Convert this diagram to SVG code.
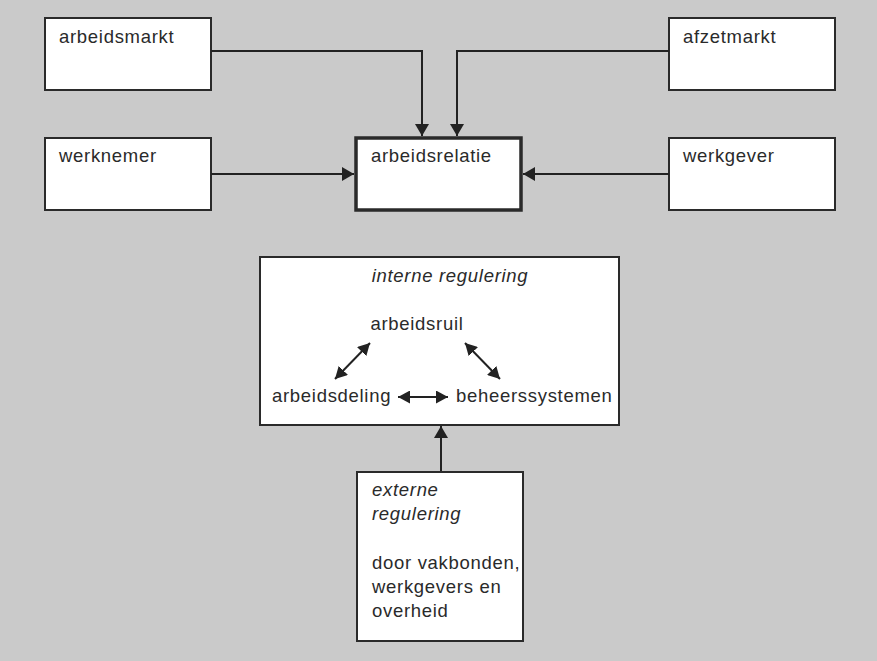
<svg xmlns="http://www.w3.org/2000/svg" width="877" height="661" viewBox="0 0 877 661">
<defs>
<marker id="ah" viewBox="0 0 12 14" refX="12" refY="7" markerWidth="12" markerHeight="14" markerUnits="userSpaceOnUse" orient="auto-start-reverse">
<path d="M0,0 L12,7 L0,14 z" fill="#222"/>
</marker>
<marker id="ahs" viewBox="0 0 12 13" refX="12" refY="6.5" markerWidth="12" markerHeight="13" markerUnits="userSpaceOnUse" orient="auto-start-reverse">
<path d="M0,0 L12,6.5 L0,13 z" fill="#222"/>
</marker>
</defs>
<style>
.box{fill:#fff;stroke:#2a2a2a;stroke-width:2}
.thick{stroke-width:3.5}
.t{font-family:"Liberation Sans",Arial,sans-serif;font-size:18.5px;fill:#2a2a2a;letter-spacing:0.7px}
.i{font-style:italic}
.c{fill:none;stroke:#222;stroke-width:2}
</style>
<rect x="0" y="0" width="877" height="661" fill="#cacaca"/>
<g id="arbeidsmarkt">
<rect class="box" x="45" y="18" width="166" height="72"/>
<text class="t" x="59" y="43">arbeidsmarkt</text>
</g>
<g id="afzetmarkt">
<rect class="box" x="669" y="18" width="166" height="72"/>
<text class="t" x="683" y="43">afzetmarkt</text>
</g>
<g id="werknemer">
<rect class="box" x="45" y="138" width="166" height="72"/>
<text class="t" x="59" y="162">werknemer</text>
</g>
<g id="arbeidsrelatie">
<rect class="box thick" x="356" y="138" width="165" height="72"/>
<text class="t" x="371" y="162">arbeidsrelatie</text>
</g>
<g id="werkgever">
<rect class="box" x="669" y="138" width="166" height="72"/>
<text class="t" x="683" y="162">werkgever</text>
</g>
<g id="interne">
<rect class="box" x="260" y="257" width="359" height="168"/>
<text class="t i" x="450" y="282" text-anchor="middle">interne regulering</text>
<text class="t" x="417" y="330" text-anchor="middle">arbeidsruil</text>
<text class="t" x="272" y="402">arbeidsdeling</text>
<text class="t" x="456" y="402">beheerssystemen</text>
</g>
<g id="externe">
<rect class="box" x="357" y="472" width="166" height="169"/>
<text class="t i" x="372" y="496">externe</text>
<text class="t i" x="372" y="520">regulering</text>
<text class="t" x="372" y="569">door vakbonden,</text>
<text class="t" x="372" y="593">werkgevers en</text>
<text class="t" x="372" y="617">overheid</text>
</g>
<g id="connectors">
<path class="c" d="M211,51 H422 V136" marker-end="url(#ah)"/>
<path class="c" d="M669,51 H457 V136" marker-end="url(#ah)"/>
<path class="c" d="M211,174 H354" marker-end="url(#ah)"/>
<path class="c" d="M669,174 H523" marker-end="url(#ah)"/>
<path class="c" d="M441,471 V426" marker-end="url(#ah)"/>
<path class="c" d="M335,379 L370,343" marker-start="url(#ahs)" marker-end="url(#ahs)"/>
<path class="c" d="M465,343 L500,379" marker-start="url(#ahs)" marker-end="url(#ahs)"/>
<path class="c" d="M398,397 L448,397" marker-start="url(#ahs)" marker-end="url(#ahs)"/>
</g>
</svg>
